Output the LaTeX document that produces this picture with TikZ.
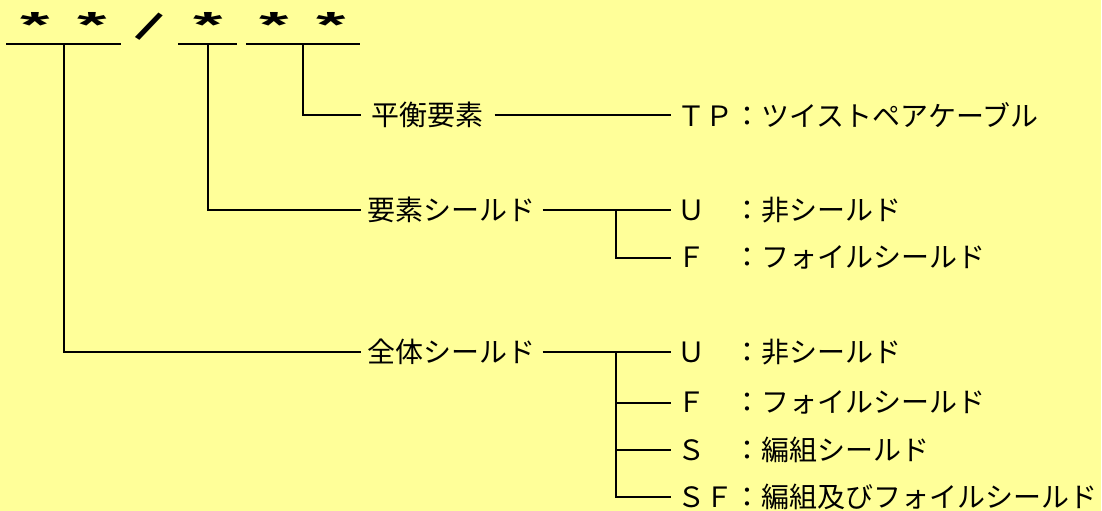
\documentclass[tikz,border=0pt]{standalone}
\usepackage{fontspec}
\setmainfont{Noto Sans CJK JP}
\newfontfamily\starfont{Liberation Sans}
\usepackage{tikz}
\definecolor{bgyellow}{HTML}{FFFF99}
\def\px{0.75pt}
\newcommand{\fieldstar}{\scalebox{2.7}[1.3]{*}}

\begin{document}
\begin{tikzpicture}[x=0.75pt, y=-0.75pt, line width=1.5pt,
    every node/.style={font=\fontsize{21}{25}\selectfont, inner sep=0pt},
    stars/.style={font=\fontsize{21}{25}\selectfont\starfont\bfseries, minimum height=36*\px},
    kind/.style={inner xsep=6*\px},
    code/.style={anchor=west, inner xsep=5*\px}]
    % Background and picture size
    \fill[bgyellow] (0,0) rectangle (1102,511);

    % Draw the code fields with their underlines
    \node[stars, minimum width=113*\px] (g1) at (64,25) {\fieldstar\hspace{21pt}\fieldstar};
    \node[stars] (sl) at (149,27) {\rotatebox{-33}{\scalebox{1.6}{/}}};
    \node[stars, minimum width=57*\px] (g2) at (208,25) {\fieldstar};
    \node[stars, minimum width=112*\px] (g3) at (303,25) {\fieldstar\hspace{21pt}\fieldstar};
    \draw (g1.south west) -- (g1.south east);
    \draw (g2.south west) -- (g2.south east);
    \draw (g3.south west) -- (g3.south east);

    % Place the field names
    \node[kind, inner xsep=10*\px] (bal) at (428,115) {平衡要素};
    \node[kind] (elem) at (452,210) {要素シールド};
    \node[kind] (whole) at (452,352) {全体シールド};

    % Place the codes
    \node[code] (tp) at (672,115) {ＴＰ：ツイストペアケーブル};
    \node[code] (eu) at (672,210) {Ｕ　：非シールド};
    \node[code] (ef) at (672,258) {Ｆ　：フォイルシールド};
    \node[code] (wu) at (672,352) {Ｕ　：非シールド};
    \node[code] (wf) at (672,403) {Ｆ　：フォイルシールド};
    \node[code] (ws) at (672,450) {Ｓ　：編組シールド};
    \node[code] (wsf) at (672,497) {ＳＦ：編組及びフォイルシールド};

    % Branch points
    \def\bx{617}
    \coordinate (eb) at (\bx,210);
    \coordinate (wb) at (\bx,352);

    % Connect fields to names and codes
    \draw (g3.south) |- (bal.west);
    \draw (bal.east) -- (tp.west);
    \draw (g2.south) |- (elem.west);
    \draw (elem.east) -- (eu.west);
    \draw (eb) |- (ef.west);
    \draw (g1.south) |- (whole.west);
    \draw (whole.east) -- (wu.west);
    \draw (wb) |- (wf.west);
    \draw (wb) |- (ws.west);
    \draw (wb) |- (wsf.west);
\end{tikzpicture}
\end{document}
